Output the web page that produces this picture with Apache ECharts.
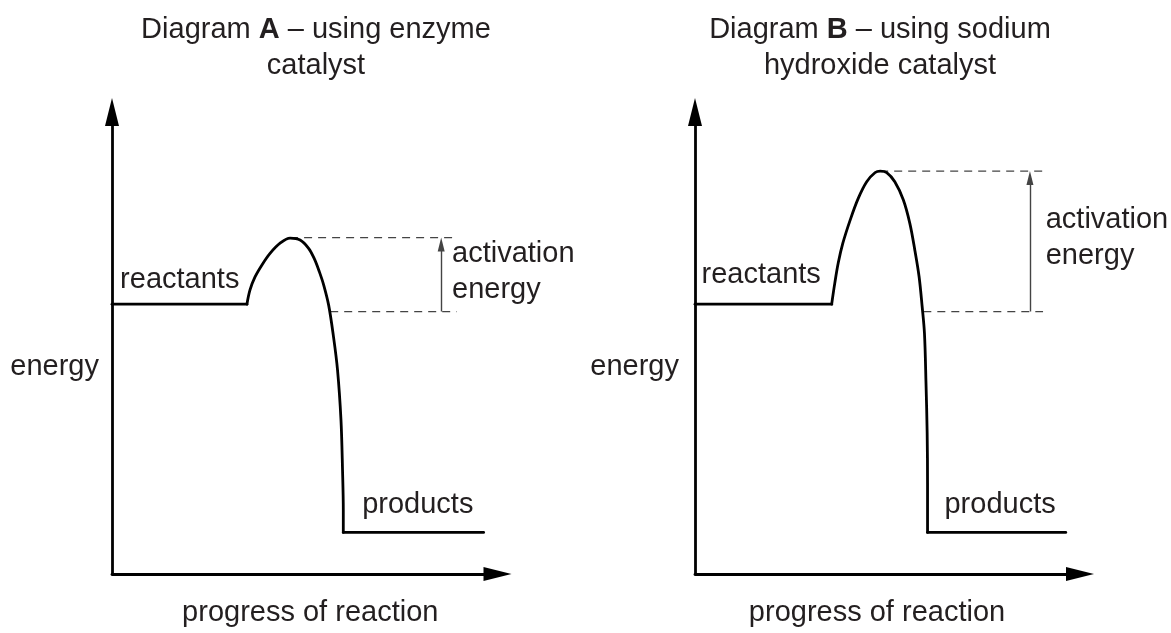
<!DOCTYPE html>
<html>
<head>
<meta charset="utf-8">
<script src="https://cdn.jsdelivr.net/npm/echarts@6/dist/echarts.min.js"></script>
<style>
html,body{margin:0;padding:0;background:#fff;}
#chart{width:1171px;height:633px;}
</style>
</head>
<body>
<div id="chart"></div>
<script>
// ---------- text ----------
const titleA = ['Diagram ', 'A', ' – using enzyme', 'catalyst'];
const titleB = ['Diagram ', 'B', ' – using sodium', 'hydroxide catalyst'];
const xName = 'progress of reaction';
const yName = 'energy';
const labelReactants = 'reactants';
const labelProducts = 'products';
const labelActivation = 'activation\nenergy';

// ---------- Diagram A (enzyme catalyst), axes 0..100 ----------
const reactantsA = [[0, 58.4], [35.0, 58.4]];
const barrierA = [[35.0, 58.4], [35.8, 61.5], [37.1, 64.3], [38.9, 66.9], [41.0, 69.4], [43.6, 71.6],
  [46.2, 72.7], [48.8, 72.3], [51.0, 70.5], [52.5, 68.2], [53.8, 65.4], [54.9, 62.6], [56.2, 58.2],
  [57.4, 51.7], [58.5, 44.2], [59.4, 33.3], [59.8, 22.5], [60.0, 13.9], [60.0, 9.0]];
const productsA = [[60.0, 9.0], [96.4, 9.0]];
const eaTopA = [[46.2, 72.8], [89.4, 72.8]];
const eaBottomA = [[56.6, 56.8], [89.4, 56.8]];
const eaArrowA = [[85.4, 56.8], [85.4, 71.3]];
const reactantsLabelA = [2.1, 63.7];
const productsLabelA = [64.9, 14.9];
const activationLabelA = [88.2, 65.3];
const energyLabelA = [0, 44.8];

// ---------- Diagram B (sodium hydroxide catalyst) ----------
const reactantsB = [[0, 58.4], [35.5, 58.4]];
const barrierB = [[35.5, 58.4], [36.3, 62.9], [37.2, 67.3], [38.4, 71.6], [40.3, 76.6], [42.4, 81.3],
  [44.6, 84.9], [46.8, 86.9], [48.1, 87.2], [49.8, 86.9], [51.9, 84.9], [54.1, 81.0], [55.8, 75.9],
  [57.1, 70.1], [58.2, 64.4], [59.0, 57.9], [59.6, 52.1], [60.0, 41.3], [60.3, 30.5], [60.4, 19.6], [60.4, 9.0]];
const productsB = [[60.4, 9.0], [96.3, 9.0]];
const eaTopB = [[48.1, 87.2], [90.4, 87.2]];
const eaBottomB = [[59.3, 56.8], [90.4, 56.8]];
const eaArrowB = [[87.0, 56.8], [87.0, 85.7]];
const reactantsLabelB = [1.7, 64.7];
const productsLabelB = [64.8, 14.9];
const activationLabelB = [91.1, 72.7];
const energyLabelB = [0, 44.8];

// ---------- styling ----------
const FONT = 'Liberation Sans, Arial, sans-serif';
const FS = 29;
const TXT = '#231f20';
const INK = '#000';
const DASH = '#444';

function makeTitle(t, cx) {
  return {
    text: '{n|' + t[0] + '}{b|' + t[1] + '}{n|' + t[2] + '}\n{n|' + t[3] + '}',
    left: cx, top: 12, textAlign: 'center', padding: 0,
    textStyle: {
      fontWeight: 'normal',
      rich: {
        n: {fontFamily: FONT, fontSize: FS, color: TXT, lineHeight: 36, fontWeight: 'normal'},
        b: {fontFamily: FONT, fontSize: FS, color: TXT, lineHeight: 36, fontWeight: 'bold'}
      }
    }
  };
}

function makeXAxis(idx, pad) {
  return {
    type: 'value', gridIndex: idx, min: 0, max: 100,
    axisLine: {show: true, onZero: false, symbol: ['none', 'triangle'], symbolSize: [14, 28],
      lineStyle: {color: INK, width: 2.8}},
    axisTick: {show: false}, axisLabel: {show: false}, splitLine: {show: false},
    name: xName, nameLocation: 'middle', nameGap: 24,
    nameTextStyle: {fontFamily: FONT, fontSize: FS, color: TXT, padding: pad}
  };
}
function makeYAxis(idx) {
  return {
    type: 'value', gridIndex: idx, min: 0, max: 100,
    axisLine: {show: true, onZero: false, symbol: ['none', 'triangle'], symbolSize: [14, 28],
      lineStyle: {color: INK, width: 2.8}},
    axisTick: {show: false}, axisLabel: {show: false}, splitLine: {show: false}
  };
}

function solid(data, idx, smooth) {
  return {type: 'line', xAxisIndex: idx, yAxisIndex: idx, data: data, symbol: 'none',
    smooth: smooth || false, lineStyle: {color: INK, width: 2.8, cap: 'round', join: 'round'}, silent: true, z: 3};
}
function dashed(data, idx) {
  return {type: 'line', xAxisIndex: idx, yAxisIndex: idx, data: data, symbol: 'none',
    lineStyle: {color: DASH, width: 1.4, type: [8, 6]}, silent: true, z: 2};
}
function arrow(data, idx) {
  return {type: 'lines', coordinateSystem: 'cartesian2d', xAxisIndex: idx, yAxisIndex: idx,
    data: [{coords: data}], symbol: ['none', 'triangle'], symbolSize: [[7, 14], [7, 14]],
    lineStyle: {color: DASH, width: 1.4, opacity: 1}, silent: true, z: 2};
}
function labels(idx, items) {
  return {type: 'scatter', xAxisIndex: idx, yAxisIndex: idx, symbolSize: 0,
    itemStyle: {color: 'rgba(0,0,0,0)', opacity: 1}, silent: true, z: 5,
    data: items.map(function (it) {
      return {name: it[0], value: it[1],
        label: {position: it[2], distance: it[3], align: it[2] === 'left' ? 'right' : 'left'}};
    }),
    label: {show: true, position: 'right', distance: 0, formatter: '{b}', opacity: 1,
      fontFamily: FONT, fontSize: FS, color: TXT, lineHeight: 36, verticalAlign: 'middle'}};
}

const chart = echarts.init(document.getElementById('chart'), null, {renderer: 'canvas'});
chart.setOption({
  animation: false,
  backgroundColor: '#fff',
  title: [makeTitle(titleA, 316), makeTitle(titleB, 880)],
  grid: [
    {left: 112, top: 112, width: 385.5, height: 462},
    {left: 695, top: 112, width: 385, height: 462}
  ],
  xAxis: [makeXAxis(0, [0, 0, 0, 11]), makeXAxis(1, [0, 21, 0, 0])],
  yAxis: [makeYAxis(0), makeYAxis(1)],
  series: [
    solid(reactantsA, 0), solid(barrierA, 0, 0.35), solid(productsA, 0),
    dashed(eaTopA, 0), dashed(eaBottomA, 0), arrow(eaArrowA, 0),
    labels(0, [[labelReactants, reactantsLabelA, 'right', 0], [labelProducts, productsLabelA, 'right', 0],
      [labelActivation, activationLabelA, 'right', 0], [yName, energyLabelA, 'left', 13]]),
    solid(reactantsB, 1), solid(barrierB, 1, 0.35), solid(productsB, 1),
    dashed(eaTopB, 1), dashed(eaBottomB, 1), arrow(eaArrowB, 1),
    labels(1, [[labelReactants, reactantsLabelB, 'right', 0], [labelProducts, productsLabelB, 'right', 0],
      [labelActivation, activationLabelB, 'right', 0], [yName, energyLabelB, 'left', 16]])
  ]
});
</script>
</body>
</html>
